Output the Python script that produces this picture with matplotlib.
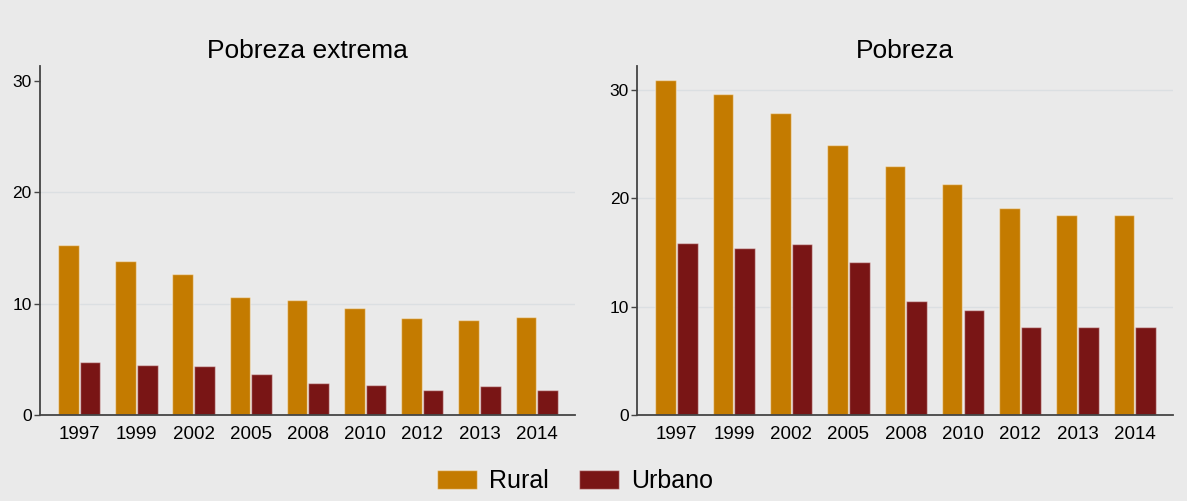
import numpy as np
import matplotlib.pyplot as plt
import matplotlib.patches as mpatches

plt.rcParams['font.family'] = ['Liberation Sans', 'DejaVu Sans']

years = ["1997", "1999", "2002", "2005", "2008", "2010", "2012", "2013", "2014"]

# Pobreza extrema (%)
ext_rural = [15.3, 13.8, 12.7, 10.6, 10.3, 9.6, 8.7, 8.5, 8.8]
ext_urbano = [4.8, 4.5, 4.4, 3.7, 2.9, 2.7, 2.3, 2.6, 2.3]

# Pobreza (%)
pob_rural = [30.9, 29.6, 27.9, 24.9, 23.0, 21.3, 19.1, 18.5, 18.5]
pob_urbano = [15.9, 15.4, 15.8, 14.1, 10.5, 9.7, 8.1, 8.1, 8.1]

C_RURAL = "#C47B00"
C_URBANO = "#791515"
BG = "#EAEAEA"
GRID = "#DBDFE2"
EDGE = (1, 1, 1, 0.45)

fig = plt.figure(figsize=(11.87, 5.01), dpi=100, facecolor=BG)
ax1 = fig.add_axes([0.0337, 0.171, 0.4507, 0.697])
ax2 = fig.add_axes([0.537, 0.171, 0.4513, 0.697])

x = np.arange(len(years))
w = 0.36


def draw_panel(ax, rural, urbano, title, ymax, grid_at):
    ax.set_facecolor(BG)
    for g in grid_at:
        ax.axhline(g, color=GRID, lw=1, zorder=0)
    ax.bar(x - w / 2 - 0.01, rural, width=w, color=C_RURAL, edgecolor=EDGE,
           linewidth=1, zorder=2)
    ax.bar(x + w / 2 + 0.01, urbano, width=w, color=C_URBANO, edgecolor=EDGE,
           linewidth=1, zorder=2)
    ax.set_xlim(-0.685, 8.67)
    ax.set_ylim(0, ymax)
    ax.set_xticks(x)
    ax.set_xticklabels(years, fontsize=13.5)
    ax.set_yticks([0, 10, 20, 30])
    ax.tick_params(axis="y", labelsize=12.5, length=4, width=1, color="#444444", pad=2)
    ax.tick_params(axis="x", length=0, pad=8)
    for s in ["top", "right"]:
        ax.spines[s].set_visible(False)
    for s in ["left", "bottom"]:
        ax.spines[s].set_color("#444444")
        ax.spines[s].set_linewidth(1.3)
    ax.set_title(title, fontsize=19, pad=6)


draw_panel(ax1, ext_rural, ext_urbano, "Pobreza extrema", 31.3, [10, 20])
draw_panel(ax2, pob_rural, pob_urbano, "Pobreza", 32.2, [10, 20, 30])

handles = [
    mpatches.Patch(facecolor=C_RURAL, edgecolor=EDGE, label="Rural"),
    mpatches.Patch(facecolor=C_URBANO, edgecolor=EDGE, label="Urbano"),
]
fig.legend(handles=handles, loc="center", bbox_to_anchor=(0.4845, 0.04),
           ncol=2, frameon=False, fontsize=18, handlelength=1.6, handleheight=0.77,
           columnspacing=1.2, handletextpad=0.5)

fig.savefig("out.png", dpi=100, facecolor=BG)
